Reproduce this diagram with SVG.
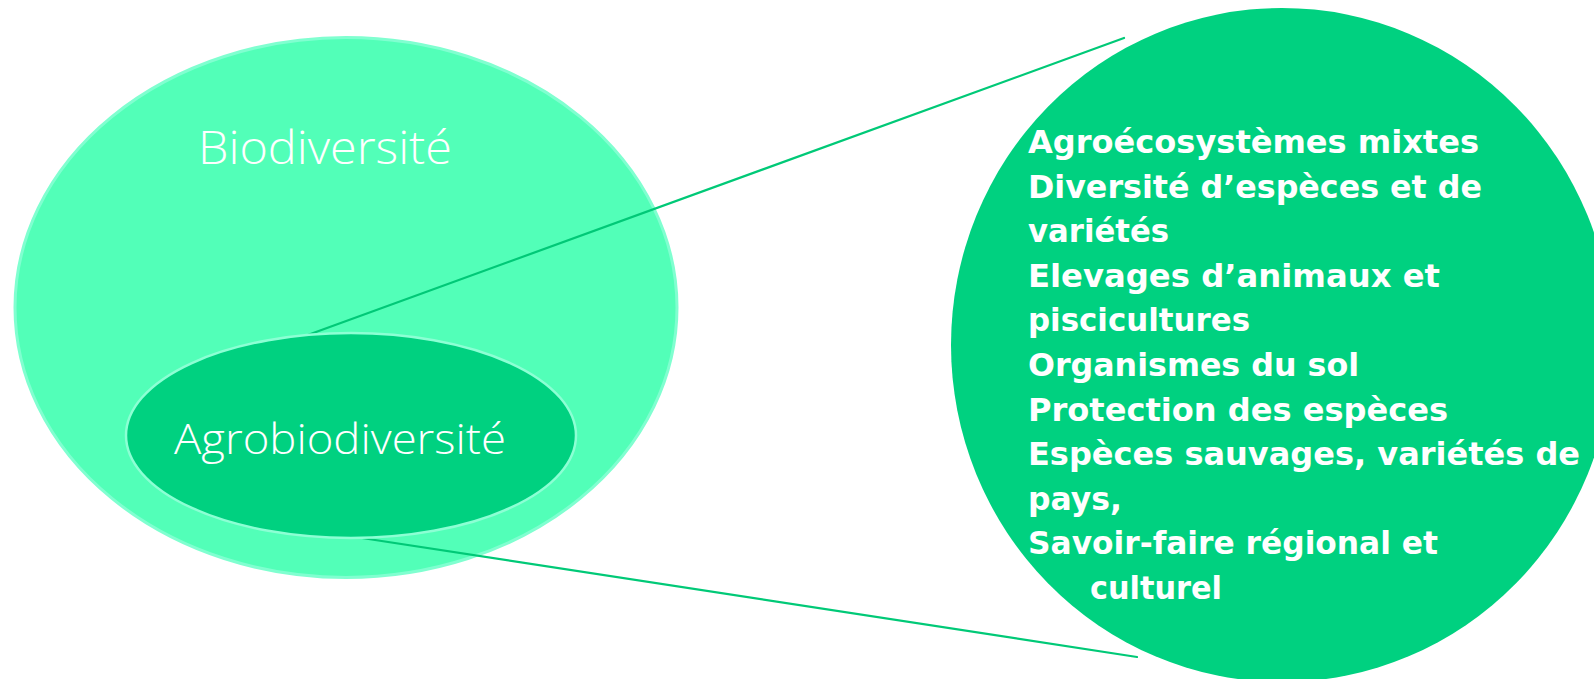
<svg xmlns="http://www.w3.org/2000/svg" width="1594" height="679" viewBox="0 0 1594 679">
  <style>
    .outer { fill: #52FFB8; stroke: #80FFD0; stroke-width: 3; }
    .inner { fill: #00D180; stroke: #8CFFD4; stroke-width: 2.5; }
    .detail { fill: #00D180; }
    .conn { stroke: #00C977; stroke-width: 2.2; fill: none; stroke-linecap: round; }
    .light { font-family: "Open Sans", "Lato", "Liberation Sans", sans-serif; font-weight: 300; fill: #FFFFFF; }
    .bold { font-family: "DejaVu Sans", "Liberation Sans", sans-serif; font-weight: bold; font-size: 32px; fill: #FFFFFF; }
  </style>
  <rect width="1594" height="679" fill="#FFFFFF"/>
  <g id="biodiversite">
    <ellipse class="outer" cx="346" cy="307.5" rx="331" ry="270"/>
    <text class="light" x="198" y="164" font-size="46" textLength="254" lengthAdjust="spacingAndGlyphs">Biodiversité</text>
  </g>
  <g id="connectors">
    <line class="conn" x1="305" y1="336" x2="1124" y2="38"/>
    <line class="conn" x1="362" y1="538" x2="1137" y2="657"/>
  </g>
  <g id="agrobiodiversite">
    <ellipse class="inner" cx="351" cy="435.5" rx="225" ry="102.5"/>
    <text class="light" x="174" y="454" font-size="42" textLength="332" lengthAdjust="spacingAndGlyphs">Agrobiodiversité</text>
  </g>
  <g id="details">
    <ellipse class="detail" cx="1282" cy="345" rx="331" ry="337"/>
    <text class="bold" x="1028" y="153" textLength="451" lengthAdjust="spacingAndGlyphs">Agroécosystèmes mixtes</text>
    <text class="bold" x="1028" y="197.6" textLength="454" lengthAdjust="spacingAndGlyphs">Diversité d’espèces et de</text>
    <text class="bold" x="1028" y="242.2" textLength="141" lengthAdjust="spacingAndGlyphs">variétés</text>
    <text class="bold" x="1028" y="286.8" textLength="412" lengthAdjust="spacingAndGlyphs">Elevages d’animaux et</text>
    <text class="bold" x="1028" y="331.4" textLength="222" lengthAdjust="spacingAndGlyphs">piscicultures</text>
    <text class="bold" x="1028" y="376" textLength="331" lengthAdjust="spacingAndGlyphs">Organismes du sol</text>
    <text class="bold" x="1028" y="420.6" textLength="420" lengthAdjust="spacingAndGlyphs">Protection des espèces</text>
    <text class="bold" x="1028" y="465.2" textLength="552" lengthAdjust="spacingAndGlyphs">Espèces sauvages, variétés de</text>
    <text class="bold" x="1028" y="509.8" textLength="94" lengthAdjust="spacingAndGlyphs">pays,</text>
    <text class="bold" x="1028" y="554.4" textLength="410" lengthAdjust="spacingAndGlyphs">Savoir-faire régional et</text>
    <text class="bold" x="1090" y="599" textLength="132" lengthAdjust="spacingAndGlyphs">culturel</text>
  </g>
</svg>
